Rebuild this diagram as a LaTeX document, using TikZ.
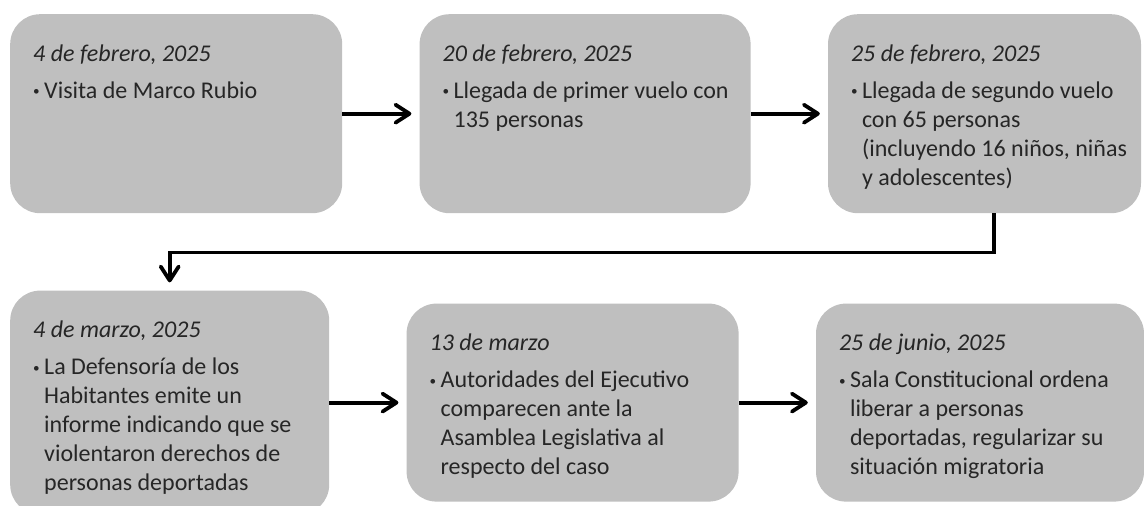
\documentclass[tikz,border=0pt]{standalone}
\usepackage{fontspec}
\setmainfont{Carlito}
\usetikzlibrary{positioning}
\usetikzlibrary{arrows.meta}
\definecolor{cajagris}{HTML}{BFBFBF}
\definecolor{texto}{HTML}{262626}
\newcommand{\punto}{\raisebox{2.5pt}{\scalebox{0.55}{\textbullet}}}
\newcommand{\evento}[4]{\parbox[c][#2][t]{#1}{\raggedright
	\rule{0pt}{47pt}\textit{#3}\par\vspace{8pt}%
	\makebox[11pt][l]{\punto}\begin{tabular}[t]{@{}l@{}}#4\end{tabular}}}
\tikzset{caja/.style={fill=cajagris, rounded corners=30pt, inner xsep=23pt, inner ysep=0pt, text=texto,
		font=\fontsize{24}{29}\selectfont}}
\tikzset{flecha/.style={draw, line width=3.8pt, -{Straight Barb[length=14pt,width=18pt,round]}, shorten >=8pt}}

\begin{document}
\begin{tikzpicture}[x=1pt,y=-1pt]
	\useasboundingbox (0,0) rectangle (1144,506);
	\node (FEB4) [caja, anchor=north west] at (10,14) {\evento{286pt}{199pt}{4 de febrero, 2025}{Visita de Marco Rubio}};
	\node (FEB20) [caja, right=77pt of FEB4] {\evento{285pt}{199pt}{20 de febrero, 2025}{Llegada de primer vuelo con\\ 135 personas}};
	\node (FEB25) [caja, right=77pt of FEB20] {\evento{267pt}{199pt}{25 de febrero, 2025}{Llegada de segundo vuelo\\ con 65 personas\\ (incluyendo 16 niños, niñas\\ y adolescentes)}};
	\node (MAR4) [caja, below=77pt of FEB4.south west, anchor=north west] {\evento{273pt}{224pt}{4 de marzo, 2025}{La Defensoría de los\\ Habitantes emite un\\ informe indicando que se\\ violentaron derechos de\\ personas deportadas}};
	\node (MAR13) [caja, right=77pt of MAR4] {\evento{286pt}{198pt}{13 de marzo}{Autoridades del Ejecutivo\\ comparecen ante la\\ Asamblea Legislativa al\\ respecto del caso}};
	\node (JUN25) [caja, right=77pt of MAR13] {\evento{282pt}{198pt}{25 de junio, 2025}{Sala Constitucional ordena\\ liberar a personas\\ deportadas, regularizar su\\ situación migratoria}};
	
	\path [flecha] (FEB4) -- (FEB20);
	\path [flecha] (FEB20) -- (FEB25);
	\path [flecha] ([xshift=9.5pt]FEB25.south) -- ++(0,39) -| (MAR4.north);
	\path [flecha] (MAR4) -- (MAR13);
	\path [flecha] (MAR13) -- (JUN25);
\end{tikzpicture}
\end{document}
